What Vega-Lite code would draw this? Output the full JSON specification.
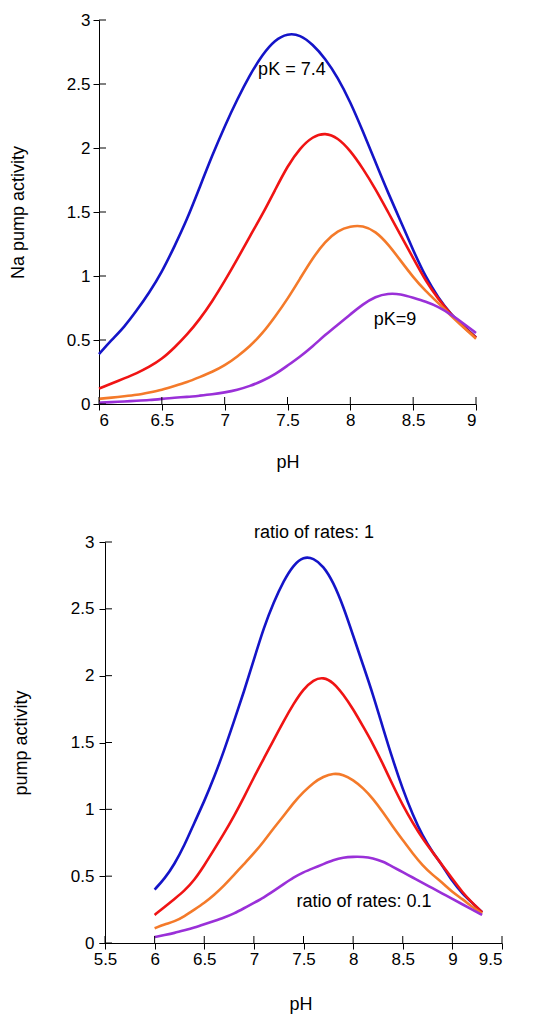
{
  "$schema": "https://vega.github.io/schema/vega-lite/v6.json",
  "background": "white",
  "padding": {"left": 9, "top": 11, "right": 5, "bottom": 5},
  "spacing": 52,
  "config": {
    "view": {"stroke": null},
    "font": "Liberation Sans",
    "axis": {
      "grid": false,
      "labelFont": "Liberation Sans",
      "labelFontSize": 17,
      "labelColor": "black",
      "titleFont": "Liberation Sans",
      "titleFontSize": 18,
      "titleFontWeight": "normal",
      "titleColor": "black",
      "domainColor": "black",
      "domainWidth": 1,
      "tickColor": "black",
      "tickSize": 6,
      "format": "~g"
    },
    "tick": {"color": "black", "thickness": 1, "opacity": 1},
    "text": {"font": "Liberation Sans", "fontSize": 18, "color": "black"}
  },
  "datasets": {
    "top": [
      {"pH":6.0,"activity":0.39,"curve":"1"},{"pH":6.1,"activity":0.50,"curve":"1"},{"pH":6.2,"activity":0.60,"curve":"1"},{"pH":6.3,"activity":0.73,"curve":"1"},{"pH":6.4,"activity":0.87,"curve":"1"},{"pH":6.5,"activity":1.03,"curve":"1"},{"pH":6.6,"activity":1.23,"curve":"1"},{"pH":6.7,"activity":1.44,"curve":"1"},{"pH":6.8,"activity":1.69,"curve":"1"},{"pH":6.9,"activity":1.94,"curve":"1"},{"pH":7.0,"activity":2.17,"curve":"1"},{"pH":7.1,"activity":2.38,"curve":"1"},{"pH":7.2,"activity":2.57,"curve":"1"},{"pH":7.3,"activity":2.73,"curve":"1"},{"pH":7.4,"activity":2.845,"curve":"1"},{"pH":7.5,"activity":2.895,"curve":"1"},{"pH":7.6,"activity":2.885,"curve":"1"},{"pH":7.7,"activity":2.81,"curve":"1"},{"pH":7.8,"activity":2.70,"curve":"1"},{"pH":7.9,"activity":2.55,"curve":"1"},{"pH":8.0,"activity":2.36,"curve":"1"},{"pH":8.1,"activity":2.13,"curve":"1"},{"pH":8.2,"activity":1.89,"curve":"1"},{"pH":8.3,"activity":1.65,"curve":"1"},{"pH":8.4,"activity":1.43,"curve":"1"},{"pH":8.5,"activity":1.20,"curve":"1"},{"pH":8.6,"activity":0.99,"curve":"1"},{"pH":8.7,"activity":0.83,"curve":"1"},{"pH":8.8,"activity":0.70,"curve":"1"},{"pH":8.9,"activity":0.61,"curve":"1"},{"pH":9.0,"activity":0.52,"curve":"1"},
      {"pH":6.0,"activity":0.12,"curve":"2"},{"pH":6.1,"activity":0.16,"curve":"2"},{"pH":6.2,"activity":0.20,"curve":"2"},{"pH":6.3,"activity":0.24,"curve":"2"},{"pH":6.4,"activity":0.29,"curve":"2"},{"pH":6.5,"activity":0.35,"curve":"2"},{"pH":6.6,"activity":0.44,"curve":"2"},{"pH":6.7,"activity":0.54,"curve":"2"},{"pH":6.8,"activity":0.66,"curve":"2"},{"pH":6.9,"activity":0.80,"curve":"2"},{"pH":7.0,"activity":0.96,"curve":"2"},{"pH":7.1,"activity":1.13,"curve":"2"},{"pH":7.2,"activity":1.31,"curve":"2"},{"pH":7.3,"activity":1.48,"curve":"2"},{"pH":7.4,"activity":1.67,"curve":"2"},{"pH":7.5,"activity":1.86,"curve":"2"},{"pH":7.6,"activity":2.00,"curve":"2"},{"pH":7.7,"activity":2.09,"curve":"2"},{"pH":7.8,"activity":2.12,"curve":"2"},{"pH":7.9,"activity":2.08,"curve":"2"},{"pH":8.0,"activity":1.98,"curve":"2"},{"pH":8.1,"activity":1.84,"curve":"2"},{"pH":8.2,"activity":1.68,"curve":"2"},{"pH":8.3,"activity":1.50,"curve":"2"},{"pH":8.4,"activity":1.32,"curve":"2"},{"pH":8.5,"activity":1.14,"curve":"2"},{"pH":8.6,"activity":0.96,"curve":"2"},{"pH":8.7,"activity":0.82,"curve":"2"},{"pH":8.8,"activity":0.70,"curve":"2"},{"pH":8.9,"activity":0.60,"curve":"2"},{"pH":9.0,"activity":0.52,"curve":"2"},
      {"pH":6.0,"activity":0.04,"curve":"3"},{"pH":6.1,"activity":0.05,"curve":"3"},{"pH":6.2,"activity":0.06,"curve":"3"},{"pH":6.3,"activity":0.07,"curve":"3"},{"pH":6.4,"activity":0.09,"curve":"3"},{"pH":6.5,"activity":0.11,"curve":"3"},{"pH":6.6,"activity":0.14,"curve":"3"},{"pH":6.7,"activity":0.17,"curve":"3"},{"pH":6.8,"activity":0.21,"curve":"3"},{"pH":6.9,"activity":0.25,"curve":"3"},{"pH":7.0,"activity":0.30,"curve":"3"},{"pH":7.1,"activity":0.37,"curve":"3"},{"pH":7.2,"activity":0.45,"curve":"3"},{"pH":7.3,"activity":0.55,"curve":"3"},{"pH":7.4,"activity":0.68,"curve":"3"},{"pH":7.5,"activity":0.82,"curve":"3"},{"pH":7.6,"activity":0.98,"curve":"3"},{"pH":7.7,"activity":1.14,"curve":"3"},{"pH":7.8,"activity":1.27,"curve":"3"},{"pH":7.9,"activity":1.355,"curve":"3"},{"pH":8.0,"activity":1.39,"curve":"3"},{"pH":8.1,"activity":1.395,"curve":"3"},{"pH":8.2,"activity":1.35,"curve":"3"},{"pH":8.3,"activity":1.25,"curve":"3"},{"pH":8.4,"activity":1.12,"curve":"3"},{"pH":8.5,"activity":0.99,"curve":"3"},{"pH":8.6,"activity":0.88,"curve":"3"},{"pH":8.7,"activity":0.79,"curve":"3"},{"pH":8.8,"activity":0.69,"curve":"3"},{"pH":8.9,"activity":0.60,"curve":"3"},{"pH":9.0,"activity":0.51,"curve":"3"},
      {"pH":6.0,"activity":0.01,"curve":"4"},{"pH":6.1,"activity":0.015,"curve":"4"},{"pH":6.2,"activity":0.02,"curve":"4"},{"pH":6.3,"activity":0.025,"curve":"4"},{"pH":6.4,"activity":0.03,"curve":"4"},{"pH":6.5,"activity":0.04,"curve":"4"},{"pH":6.6,"activity":0.05,"curve":"4"},{"pH":6.7,"activity":0.055,"curve":"4"},{"pH":6.8,"activity":0.065,"curve":"4"},{"pH":6.9,"activity":0.075,"curve":"4"},{"pH":7.0,"activity":0.09,"curve":"4"},{"pH":7.1,"activity":0.11,"curve":"4"},{"pH":7.2,"activity":0.14,"curve":"4"},{"pH":7.3,"activity":0.18,"curve":"4"},{"pH":7.4,"activity":0.23,"curve":"4"},{"pH":7.5,"activity":0.30,"curve":"4"},{"pH":7.6,"activity":0.37,"curve":"4"},{"pH":7.7,"activity":0.45,"curve":"4"},{"pH":7.8,"activity":0.54,"curve":"4"},{"pH":7.9,"activity":0.62,"curve":"4"},{"pH":8.0,"activity":0.70,"curve":"4"},{"pH":8.1,"activity":0.78,"curve":"4"},{"pH":8.2,"activity":0.84,"curve":"4"},{"pH":8.3,"activity":0.865,"curve":"4"},{"pH":8.4,"activity":0.86,"curve":"4"},{"pH":8.5,"activity":0.83,"curve":"4"},{"pH":8.6,"activity":0.80,"curve":"4"},{"pH":8.7,"activity":0.76,"curve":"4"},{"pH":8.8,"activity":0.70,"curve":"4"},{"pH":8.9,"activity":0.63,"curve":"4"},{"pH":9.0,"activity":0.555,"curve":"4"}
    ],
    "bottom": [
      {"pH":6.0,"activity":0.40,"curve":"1"},{"pH":6.1,"activity":0.48,"curve":"1"},{"pH":6.2,"activity":0.59,"curve":"1"},{"pH":6.3,"activity":0.73,"curve":"1"},{"pH":6.4,"activity":0.90,"curve":"1"},{"pH":6.5,"activity":1.06,"curve":"1"},{"pH":6.6,"activity":1.24,"curve":"1"},{"pH":6.7,"activity":1.44,"curve":"1"},{"pH":6.8,"activity":1.66,"curve":"1"},{"pH":6.9,"activity":1.88,"curve":"1"},{"pH":7.0,"activity":2.12,"curve":"1"},{"pH":7.1,"activity":2.36,"curve":"1"},{"pH":7.2,"activity":2.55,"curve":"1"},{"pH":7.3,"activity":2.71,"curve":"1"},{"pH":7.4,"activity":2.83,"curve":"1"},{"pH":7.5,"activity":2.89,"curve":"1"},{"pH":7.6,"activity":2.88,"curve":"1"},{"pH":7.7,"activity":2.82,"curve":"1"},{"pH":7.8,"activity":2.70,"curve":"1"},{"pH":7.9,"activity":2.52,"curve":"1"},{"pH":8.0,"activity":2.30,"curve":"1"},{"pH":8.1,"activity":2.08,"curve":"1"},{"pH":8.2,"activity":1.86,"curve":"1"},{"pH":8.3,"activity":1.61,"curve":"1"},{"pH":8.4,"activity":1.37,"curve":"1"},{"pH":8.5,"activity":1.15,"curve":"1"},{"pH":8.6,"activity":0.96,"curve":"1"},{"pH":8.7,"activity":0.80,"curve":"1"},{"pH":8.8,"activity":0.68,"curve":"1"},{"pH":8.9,"activity":0.58,"curve":"1"},{"pH":9.0,"activity":0.46,"curve":"1"},{"pH":9.1,"activity":0.37,"curve":"1"},{"pH":9.2,"activity":0.30,"curve":"1"},{"pH":9.3,"activity":0.23,"curve":"1"},
      {"pH":6.0,"activity":0.21,"curve":"2"},{"pH":6.1,"activity":0.27,"curve":"2"},{"pH":6.2,"activity":0.33,"curve":"2"},{"pH":6.3,"activity":0.39,"curve":"2"},{"pH":6.4,"activity":0.47,"curve":"2"},{"pH":6.5,"activity":0.58,"curve":"2"},{"pH":6.6,"activity":0.70,"curve":"2"},{"pH":6.7,"activity":0.82,"curve":"2"},{"pH":6.8,"activity":0.95,"curve":"2"},{"pH":6.9,"activity":1.09,"curve":"2"},{"pH":7.0,"activity":1.24,"curve":"2"},{"pH":7.1,"activity":1.38,"curve":"2"},{"pH":7.2,"activity":1.52,"curve":"2"},{"pH":7.3,"activity":1.66,"curve":"2"},{"pH":7.4,"activity":1.79,"curve":"2"},{"pH":7.5,"activity":1.90,"curve":"2"},{"pH":7.6,"activity":1.97,"curve":"2"},{"pH":7.7,"activity":1.99,"curve":"2"},{"pH":7.8,"activity":1.95,"curve":"2"},{"pH":7.9,"activity":1.86,"curve":"2"},{"pH":8.0,"activity":1.75,"curve":"2"},{"pH":8.1,"activity":1.62,"curve":"2"},{"pH":8.2,"activity":1.49,"curve":"2"},{"pH":8.3,"activity":1.34,"curve":"2"},{"pH":8.4,"activity":1.18,"curve":"2"},{"pH":8.5,"activity":1.03,"curve":"2"},{"pH":8.6,"activity":0.90,"curve":"2"},{"pH":8.7,"activity":0.78,"curve":"2"},{"pH":8.8,"activity":0.68,"curve":"2"},{"pH":8.9,"activity":0.58,"curve":"2"},{"pH":9.0,"activity":0.48,"curve":"2"},{"pH":9.1,"activity":0.38,"curve":"2"},{"pH":9.2,"activity":0.30,"curve":"2"},{"pH":9.3,"activity":0.23,"curve":"2"},
      {"pH":6.0,"activity":0.11,"curve":"3"},{"pH":6.1,"activity":0.14,"curve":"3"},{"pH":6.2,"activity":0.16,"curve":"3"},{"pH":6.3,"activity":0.20,"curve":"3"},{"pH":6.4,"activity":0.25,"curve":"3"},{"pH":6.5,"activity":0.30,"curve":"3"},{"pH":6.6,"activity":0.36,"curve":"3"},{"pH":6.7,"activity":0.43,"curve":"3"},{"pH":6.8,"activity":0.51,"curve":"3"},{"pH":6.9,"activity":0.59,"curve":"3"},{"pH":7.0,"activity":0.67,"curve":"3"},{"pH":7.1,"activity":0.76,"curve":"3"},{"pH":7.2,"activity":0.86,"curve":"3"},{"pH":7.3,"activity":0.95,"curve":"3"},{"pH":7.4,"activity":1.05,"curve":"3"},{"pH":7.5,"activity":1.13,"curve":"3"},{"pH":7.6,"activity":1.20,"curve":"3"},{"pH":7.7,"activity":1.245,"curve":"3"},{"pH":7.8,"activity":1.27,"curve":"3"},{"pH":7.9,"activity":1.26,"curve":"3"},{"pH":8.0,"activity":1.22,"curve":"3"},{"pH":8.1,"activity":1.16,"curve":"3"},{"pH":8.2,"activity":1.08,"curve":"3"},{"pH":8.3,"activity":0.98,"curve":"3"},{"pH":8.4,"activity":0.87,"curve":"3"},{"pH":8.5,"activity":0.77,"curve":"3"},{"pH":8.6,"activity":0.67,"curve":"3"},{"pH":8.7,"activity":0.58,"curve":"3"},{"pH":8.8,"activity":0.51,"curve":"3"},{"pH":8.9,"activity":0.45,"curve":"3"},{"pH":9.0,"activity":0.38,"curve":"3"},{"pH":9.1,"activity":0.33,"curve":"3"},{"pH":9.2,"activity":0.27,"curve":"3"},{"pH":9.3,"activity":0.22,"curve":"3"},
      {"pH":6.0,"activity":0.045,"curve":"4"},{"pH":6.1,"activity":0.06,"curve":"4"},{"pH":6.2,"activity":0.075,"curve":"4"},{"pH":6.3,"activity":0.095,"curve":"4"},{"pH":6.4,"activity":0.115,"curve":"4"},{"pH":6.5,"activity":0.14,"curve":"4"},{"pH":6.6,"activity":0.165,"curve":"4"},{"pH":6.7,"activity":0.19,"curve":"4"},{"pH":6.8,"activity":0.22,"curve":"4"},{"pH":6.9,"activity":0.26,"curve":"4"},{"pH":7.0,"activity":0.30,"curve":"4"},{"pH":7.1,"activity":0.34,"curve":"4"},{"pH":7.2,"activity":0.39,"curve":"4"},{"pH":7.3,"activity":0.44,"curve":"4"},{"pH":7.4,"activity":0.49,"curve":"4"},{"pH":7.5,"activity":0.53,"curve":"4"},{"pH":7.6,"activity":0.56,"curve":"4"},{"pH":7.7,"activity":0.59,"curve":"4"},{"pH":7.8,"activity":0.62,"curve":"4"},{"pH":7.9,"activity":0.64,"curve":"4"},{"pH":8.0,"activity":0.645,"curve":"4"},{"pH":8.1,"activity":0.645,"curve":"4"},{"pH":8.2,"activity":0.635,"curve":"4"},{"pH":8.3,"activity":0.61,"curve":"4"},{"pH":8.4,"activity":0.57,"curve":"4"},{"pH":8.5,"activity":0.53,"curve":"4"},{"pH":8.6,"activity":0.49,"curve":"4"},{"pH":8.7,"activity":0.45,"curve":"4"},{"pH":8.8,"activity":0.41,"curve":"4"},{"pH":8.9,"activity":0.37,"curve":"4"},{"pH":9.0,"activity":0.33,"curve":"4"},{"pH":9.1,"activity":0.29,"curve":"4"},{"pH":9.2,"activity":0.25,"curve":"4"},{"pH":9.3,"activity":0.21,"curve":"4"}
    ],
    "topLabels": [
      {"pH":7.535,"activity":2.61,"label":"pK = 7.4"},
      {"pH":8.355,"activity":0.66,"label":"pK=9"}
    ],
    "bottomLabels": [
      {"pH":7.606,"activity":3.07,"label":"ratio of rates: 1"},
      {"pH":8.11,"activity":0.305,"label":"ratio of rates: 0.1"}
    ],
    "activityTicks": [{"v":0},{"v":0.5},{"v":1},{"v":1.5},{"v":2},{"v":2.5},{"v":3}],
    "topPHTicks": [{"v":6},{"v":6.5},{"v":7},{"v":7.5},{"v":8},{"v":8.5},{"v":9}],
    "bottomPHTicks": [{"v":5.5},{"v":6},{"v":6.5},{"v":7},{"v":7.5},{"v":8},{"v":8.5},{"v":9},{"v":9.5}]
  },
  "vconcat": [
    {
      "width": 377,
      "height": 384,
      "layer": [
        {
          "data": {"name": "top"},
          "mark": {"type": "line", "strokeWidth": 2.6, "interpolate": "basis"},
          "encoding": {
            "x": {"field": "pH", "type": "quantitative",
                  "scale": {"domain": [6, 9], "nice": false, "zero": false},
                  "axis": {"values": [6, 6.5, 7, 7.5, 8, 8.5, 9], "title": "pH", "labelPadding": 2, "titlePadding": 25}},
            "y": {"field": "activity", "type": "quantitative",
                  "scale": {"domain": [0, 3], "nice": false},
                  "axis": {"values": [0, 0.5, 1, 1.5, 2, 2.5, 3], "title": "Na pump activity", "labelPadding": 3, "titlePadding": 39}},
            "color": {"field": "curve", "type": "nominal",
                      "scale": {"domain": ["1", "2", "3", "4"], "range": ["#1414C8", "#F01414", "#F47A2A", "#9A30D8"]},
                      "legend": null}
          }
        },
        {
          "data": {"name": "topLabels"},
          "mark": {"type": "text"},
          "encoding": {
            "x": {"field": "pH", "type": "quantitative"},
            "y": {"field": "activity", "type": "quantitative"},
            "text": {"field": "label"}
          }
        },
        {
          "data": {"name": "activityTicks"},
          "mark": {"type": "tick", "orient": "horizontal", "size": 7, "xOffset": 3.5},
          "encoding": {
            "x": {"datum": 6, "type": "quantitative"},
            "y": {"field": "v", "type": "quantitative"}
          }
        },
        {
          "data": {"name": "topPHTicks"},
          "mark": {"type": "tick", "orient": "vertical", "size": 7, "yOffset": -3.5},
          "encoding": {
            "x": {"field": "v", "type": "quantitative"},
            "y": {"datum": 0, "type": "quantitative"}
          }
        }
      ]
    },
    {
      "width": 403,
      "height": 401,
      "layer": [
        {
          "data": {"name": "bottom"},
          "mark": {"type": "line", "strokeWidth": 2.6, "interpolate": "basis"},
          "encoding": {
            "x": {"field": "pH", "type": "quantitative",
                  "scale": {"domain": [5.4395, 9.5], "nice": false, "zero": false},
                  "axis": {"values": [5.5, 6, 6.5, 7, 7.5, 8, 8.5, 9, 9.5], "title": "pH", "labelPadding": 2, "titlePadding": 28}},
            "y": {"field": "activity", "type": "quantitative",
                  "scale": {"domain": [0, 3], "nice": false},
                  "axis": {"values": [0, 0.5, 1, 1.5, 2, 2.5, 3], "title": "pump activity", "offset": -6, "labelPadding": 5, "titlePadding": 40}},
            "color": {"field": "curve", "type": "nominal",
                      "scale": {"domain": ["1", "2", "3", "4"], "range": ["#1414C8", "#F01414", "#F47A2A", "#9A30D8"]},
                      "legend": null}
          }
        },
        {
          "data": {"name": "bottomLabels"},
          "mark": {"type": "text"},
          "encoding": {
            "x": {"field": "pH", "type": "quantitative"},
            "y": {"field": "activity", "type": "quantitative"},
            "text": {"field": "label"}
          }
        },
        {
          "data": {"name": "activityTicks"},
          "mark": {"type": "tick", "orient": "horizontal", "size": 7, "xOffset": 3.5},
          "encoding": {
            "x": {"datum": 5.5, "type": "quantitative"},
            "y": {"field": "v", "type": "quantitative"}
          }
        },
        {
          "data": {"name": "bottomPHTicks"},
          "mark": {"type": "tick", "orient": "vertical", "size": 7, "yOffset": -3.5},
          "encoding": {
            "x": {"field": "v", "type": "quantitative"},
            "y": {"datum": 0, "type": "quantitative"}
          }
        }
      ]
    }
  ]
}
